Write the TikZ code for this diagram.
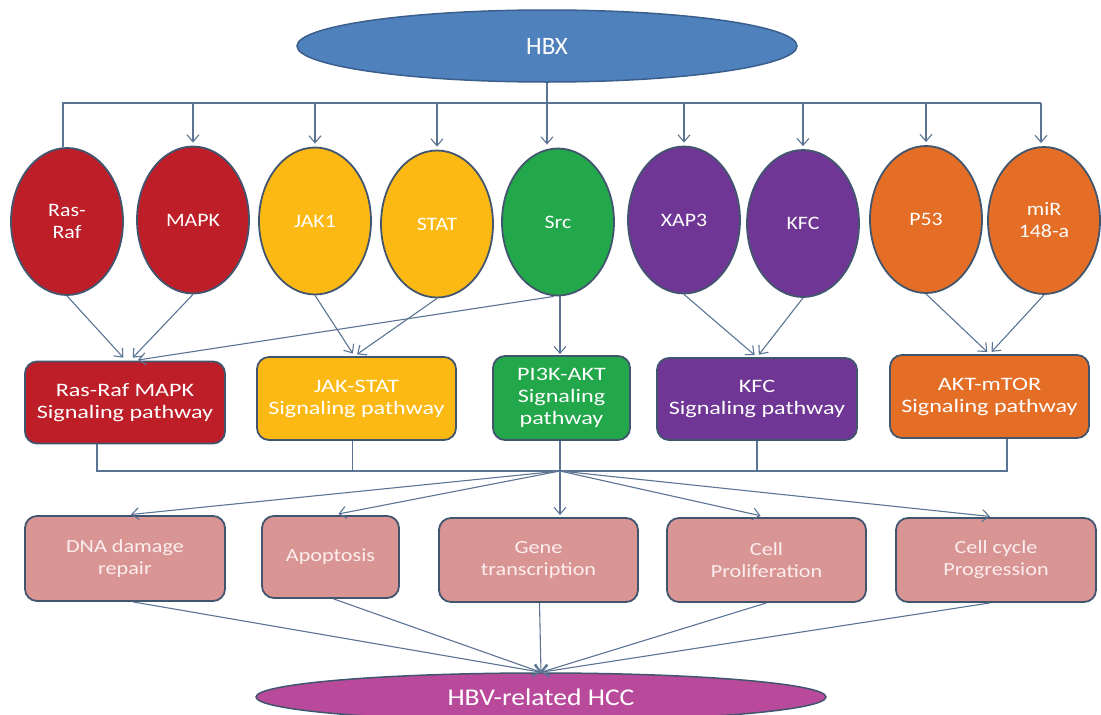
\documentclass[tikz,border=0pt]{standalone}
\usepackage{fontspec}
\setmainfont{Carlito}[FakeStretch=1.15]
\newfontfamily\plainfont{Carlito}
\newfontfamily\widefont{Carlito}[FakeStretch=1.27]
\newfontfamily\outfont{Carlito}[FakeStretch=1.2]
\usetikzlibrary{shapes.geometric,arrows.meta}

\definecolor{hbxblue}{RGB}{79,129,189}
\definecolor{hbxedge}{RGB}{58,95,140}
\definecolor{grpred}{RGB}{190,30,40}
\definecolor{grpyellow}{RGB}{253,185,19}
\definecolor{grpgreen}{RGB}{34,168,74}
\definecolor{grppurple}{RGB}{111,54,149}
\definecolor{grporange}{RGB}{228,110,38}
\definecolor{outpink}{RGB}{217,149,148}
\definecolor{hccmag}{RGB}{185,74,155}
\definecolor{edgeslate}{RGB}{65,86,110}
\definecolor{linkgrey}{RGB}{91,116,147}
\definecolor{pinktext}{RGB}{252,238,238}

\tikzset{
  gene/.style={ellipse, draw=edgeslate, line width=1.8pt, inner sep=0pt,
    minimum width=112pt, minimum height=147pt, text=white, align=center,
    font=\fontsize{19}{22}\selectfont},
  pathbox/.style={rectangle, rounded corners=12pt, draw=edgeslate, line width=1.8pt,
    inner sep=0pt, text=white, align=center, font=\widefont\fontsize{19}{22}\selectfont},
  outbox/.style={pathbox, fill=outpink, text=pinktext, font=\outfont\fontsize{18.5}{22}\selectfont},
  conn/.style={draw=linkgrey, line width=1.1pt},
  arr/.style={conn, -{Straight Barb[length=7pt,width=12pt,line width=1.1pt]}},
}

\begin{document}
\begin{tikzpicture}[x=1pt,y=-1pt]
\useasboundingbox (0,0) rectangle (1101,715);
\clip (0,0) rectangle (1101,715);

% source
\node[ellipse, fill=hbxblue, draw=hbxedge, line width=1.5pt, minimum width=500pt,
      minimum height=72pt, text=white, font=\plainfont\fontsize{25}{28}\selectfont]
      (hbx) at (547,46) {HBX};

% upstream targets
\node[gene, fill=grpred]    (rr)   at (67,221.5)   {Ras-\\Raf};
\node[gene, fill=grpred]    (mapk) at (193,220)    {MAPK};
\node[gene, fill=grpyellow] (jak)  at (315,221)    {JAK1};
\node[gene, fill=grpyellow] (stat) at (437,224)    {STAT};
\node[gene, fill=grpgreen]  (src)  at (558,222)    {Src};
\node[gene, fill=grppurple] (xap)  at (684,220)    {XAP3};
\node[gene, fill=grppurple] (kfc)  at (803,223.5)  {KFC};
\node[gene, fill=grporange] (p53)  at (926,219.5)  {P53};
\node[gene, fill=grporange] (mir)  at (1044,220.5) {miR\\148-a};

% signalling pathways
\node[pathbox, fill=grpred,    minimum width=200pt, minimum height=82pt] (rrm)  at (125,402.5) {Ras-Raf MAPK\\Signaling pathway};
\node[pathbox, fill=grpyellow, minimum width=199pt, minimum height=83pt] (js)   at (356.5,398.5) {JAK-STAT\\Signaling pathway};
\node[pathbox, fill=grpgreen,  minimum width=137pt, minimum height=84pt] (pi3k) at (561.5,398) {PI3K-AKT\\Signaling\\pathway};
\node[pathbox, fill=grppurple, minimum width=200pt, minimum height=82pt] (kfcp) at (757,399) {KFC\\Signaling pathway};
\node[pathbox, fill=grporange, minimum width=199pt, minimum height=83pt] (akt)  at (989.5,396.5) {AKT-mTOR\\Signaling pathway};

% cellular outcomes
\node[outbox, minimum width=200pt, minimum height=85pt] (dna)  at (125,558.5) {DNA damage\\repair};
\node[outbox, minimum width=137pt, minimum height=82pt] (apo)  at (330.5,557) {Apoptosis};
\node[outbox, minimum width=199pt, minimum height=84pt] (gtr)  at (538.5,560) {Gene\\transcription};
\node[outbox, minimum width=199pt, minimum height=84pt] (cp)   at (766.5,560) {Cell\\Proliferation};
\node[outbox, minimum width=200pt, minimum height=84pt] (cc)   at (996,560)   {Cell cycle\\Progression};

% outcome
\node[ellipse, fill=hccmag, draw=edgeslate, line width=1.5pt, minimum width=570pt,
      minimum height=48pt, inner sep=0pt, text=white, font=\fontsize{24}{27}\selectfont]
      (hbv) at (541,697) {HBV-related HCC};

% HBX distribution bus
\coordinate (busL) at (63,103);
\coordinate (busR) at (1041,103);
\draw[conn] (busL |- rr.north) -- (busL) -- (busR);
\draw[arr, shorten >=3pt] (hbx.south) -- (hbx.south |- src.north);
\foreach \n in {mapk,jak,stat,xap,kfc,p53}
  \draw[arr, shorten >=3pt] (\n.north |- busL) -- (\n.north);
\draw[arr, shorten >=3pt] (busR) -- (busR |- mir.north);

% targets to pathways
\draw[arr, shorten >=4pt] (rr.south)   -- ([xshift=1pt]rrm.north);
\draw[arr, shorten >=4pt] (mapk.south) -- ([xshift=5pt]rrm.north);
\draw[arr, shorten >=4pt] ([xshift=-4pt]src.south) -- ([xshift=9pt]rrm.north);
\draw[arr, shorten >=3pt] (jak.south)  -- ([xshift=-2pt]js.north);
\draw[arr, shorten >=3pt] (stat.south) -- ([xshift=-2pt]js.north);
\draw[arr, shorten >=1pt] ([xshift=2pt]src.south) -- ([xshift=2pt]src.south |- pi3k.north);
\draw[arr, shorten >=3pt] (xap.south)  -- (kfcp.north);
\draw[arr, shorten >=3pt] (kfc.south)  -- (kfcp.north);
\draw[arr, shorten >=3pt] (p53.south)  -- (akt.north);
\draw[arr, shorten >=3pt] (mir.south)  -- (akt.north);

% pathway collector bus
\coordinate (lbL) at (97,471);
\coordinate (lbR) at (1007,471);
\coordinate (hub) at (560,471);
\draw[conn] (rrm.south -| lbL) -- (lbL) -- (lbR) -- (akt.south -| lbR);
\draw[conn] ([xshift=-4pt]js.south) -- ([xshift=-4pt]js.south |- lbL);
\draw[conn] (kfcp.south) -- (kfcp.south |- lbL);
\draw[conn] (hub |- pi3k.south) -- (hub);

% pathways to outcomes
\draw[arr, shorten >=6pt] (hub) -- (dna.north);
\draw[arr, shorten >=6pt] (hub) -- ([xshift=2pt]apo.north);
\draw[arr, shorten >=2pt] (hub) -- (hub |- gtr.north);
\draw[arr, shorten >=6pt] (hub) -- (cp.north);
\draw[arr, shorten >=6pt] (hub) -- (cc.north);

% outcomes to HCC
\draw[arr] ([xshift=8pt]dna.south) -- (hbv.north);
\draw[arr] ([xshift=3pt]apo.south) -- (hbv.north);
\draw[arr] ([xshift=1pt]gtr.south) -- (hbv.north);
\draw[arr] (cp.south) -- (hbv.north);
\draw[arr] ([xshift=-6pt]cc.south) -- (hbv.north);
\end{tikzpicture}
\end{document}
